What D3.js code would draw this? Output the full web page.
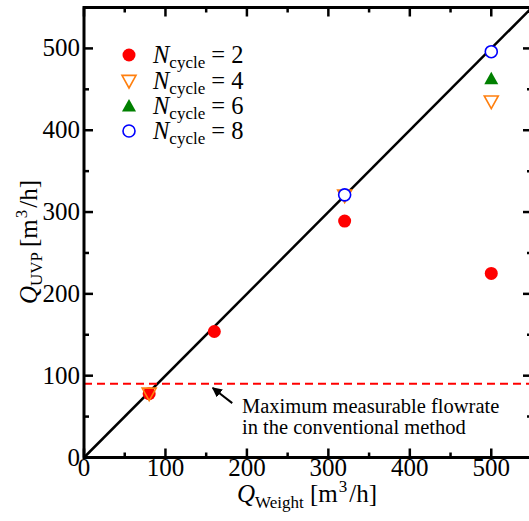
<!DOCTYPE html>
<html lang="en">
  <head>
    <meta charset="UTF-8" />
    <title>Q_UVP vs Q_Weight</title>
    <script src="https://d3js.org/d3.v7.min.js"></script>
    <style>
      body { margin: 0; background: #fff; }
      svg { display: block; font-family: "Liberation Serif", "Times New Roman", serif; }
    </style>
  </head>
  <body>
    <div id="chart"></div>
    <script>
      // Données
      const ticks = [0, 100, 200, 300, 400, 500];
      const minorTicks = [50, 150, 250, 350, 450, 550];
      const cycle2 = [[80, 78], [160, 154], [320, 289], [500, 225]];
      const cycle4 = [[80, 78], [320, 320], [500, 435]];
      const cycle6 = [[500, 463]];
      const cycle8 = [[320, 321], [500, 496]];
      const limitFlow = 90;
      const legendLabels = ["2", "4", "6", "8"];

      const width = 529, height = 521;
      const x = d3.scaleLinear().domain([0, 550]).range([84, 532]);
      const y = d3.scaleLinear().domain([0, 550]).range([457.5, 7.5]);

      const svg = d3.select("#chart").append("svg")
        .attr("width", width).attr("height", height);

      svg.append("defs").append("marker")
        .attr("id", "arrow")
        .attr("viewBox", "0 0 10 10")
        .attr("refX", 9).attr("refY", 5)
        .attr("markerWidth", 5).attr("markerHeight", 5)
        .attr("orient", "auto")
        .append("path").attr("d", "M0,0 L10,5 L0,10 z").attr("fill", "#000");

      // Ligne 1:1
      svg.append("line")
        .attr("x1", x(0)).attr("y1", y(0))
        .attr("x2", x(550)).attr("y2", y(550))
        .attr("stroke", "#000").attr("stroke-width", 2.5);

      // Limite de la méthode conventionnelle
      svg.append("line")
        .attr("x1", x(0)).attr("x2", x(550))
        .attr("y1", y(limitFlow)).attr("y2", y(limitFlow))
        .attr("stroke", "#f00").attr("stroke-width", 2)
        .attr("stroke-dasharray", "8,5");

      // Marqueurs
      const tri = (d, up) => {
        const s = 7;
        return up
          ? `M${d[0]},${d[1] - s} L${d[0] + s},${d[1] + s * 0.8} L${d[0] - s},${d[1] + s * 0.8} Z`
          : `M${d[0]},${d[1] + s} L${d[0] + s},${d[1] - s * 0.8} L${d[0] - s},${d[1] - s * 0.8} Z`;
      };
      const drawers = [
        (g, p) => g.append("circle").attr("cx", p[0]).attr("cy", p[1]).attr("r", 6.5).attr("fill", "#f00"),
        (g, p) => g.append("path").attr("d", tri(p, false)).attr("fill", "none").attr("stroke", "#ff7f0e").attr("stroke-width", 1.6),
        (g, p) => g.append("path").attr("d", tri(p, true)).attr("fill", "#008000"),
        (g, p) => g.append("circle").attr("cx", p[0]).attr("cy", p[1]).attr("r", 6).attr("fill", "#fff").attr("stroke", "#00f").attr("stroke-width", 1.6)
      ];
      const series = [cycle2, cycle4, cycle6, cycle8];
      const marks = svg.append("g");
      series.forEach((s, i) => {
        s.forEach(d => drawers[i](marks, [x(d[0]), y(d[1])]));
      });

      // Axes (cadre + graduations vers l'intérieur)
      const axes = svg.append("g").attr("stroke", "#000");
      axes.append("rect")
        .attr("x", x(0)).attr("y", y(550))
        .attr("width", x(550) - x(0)).attr("height", y(0) - y(550))
        .attr("fill", "none").attr("stroke-width", 3);
      ticks.concat(minorTicks).forEach(t => {
        const len = ticks.includes(t) ? 9 : 5;
        axes.append("line").attr("x1", x(t)).attr("x2", x(t)).attr("y1", y(0)).attr("y2", y(0) - len).attr("stroke-width", 2.5);
        axes.append("line").attr("x1", x(t)).attr("x2", x(t)).attr("y1", y(550)).attr("y2", y(550) + len).attr("stroke-width", 2.5);
        axes.append("line").attr("y1", y(t)).attr("y2", y(t)).attr("x1", x(0)).attr("x2", x(0) + len).attr("stroke-width", 2.5);
        axes.append("line").attr("y1", y(t)).attr("y2", y(t)).attr("x1", x(550)).attr("x2", x(550) - len).attr("stroke-width", 2.5);
      });

      const fs = 25;
      svg.append("g").selectAll("text").data(ticks).join("text")
        .attr("x", d => x(d)).attr("y", 476)
        .attr("text-anchor", "middle").attr("font-size", fs)
        .text(d => d);
      svg.append("g").selectAll("text").data(ticks).join("text")
        .attr("x", 80).attr("y", d => y(d) + 8)
        .attr("text-anchor", "end").attr("font-size", fs)
        .text(d => d);

      // Titres des axes
      const xl = svg.append("text").attr("x", 237).attr("y", 502).attr("font-size", 25);
      xl.append("tspan").attr("font-style", "italic").text("Q");
      xl.append("tspan").attr("dy", 6).attr("font-size", 17).text("Weight");
      xl.append("tspan").attr("x", 310).attr("dy", -6).text("[m");
      xl.append("tspan").attr("dx", 1).attr("dy", -10).attr("font-size", 17).text("3");
      xl.append("tspan").attr("dx", 2).attr("dy", 10).text("/h]");

      const yl = svg.append("text")
        .attr("transform", "translate(37,304) rotate(-90)")
        .attr("font-size", 25);
      yl.append("tspan").attr("font-style", "italic").text("Q");
      yl.append("tspan").attr("dy", 5).attr("font-size", 17).text("UVP");
      yl.append("tspan").attr("x", 57).attr("dy", -5).text("[m");
      yl.append("tspan").attr("dx", 1).attr("dy", -10).attr("font-size", 17).text("3");
      yl.append("tspan").attr("dx", 2).attr("dy", 10).text("/h]");

      // Légende
      const legY = [55, 81, 106, 131];
      legendLabels.forEach((lab, i) => {
        drawers[i](svg, [129, legY[i]]);
        const t = svg.append("text").attr("x", 153).attr("y", legY[i] + 8).attr("font-size", 24.5);
        t.append("tspan").attr("font-style", "italic").text("N");
        t.append("tspan").attr("dy", 5).attr("font-size", 17).text("cycle");
        t.append("tspan").attr("dy", -5).text(" = " + lab);
      });

      // Annotation
      svg.append("line")
        .attr("x1", x(182)).attr("y1", y(66.5))
        .attr("x2", x(158)).attr("y2", y(85))
        .attr("stroke", "#000").attr("stroke-width", 2)
        .attr("marker-end", "url(#arrow)");
      svg.append("text").attr("x", 242).attr("y", 413).attr("font-size", 20.5)
        .text("Maximum measurable flowrate");
      svg.append("text").attr("x", 242).attr("y", 434).attr("font-size", 20.5)
        .text("in the conventional method");
    </script>
  </body>
</html>
